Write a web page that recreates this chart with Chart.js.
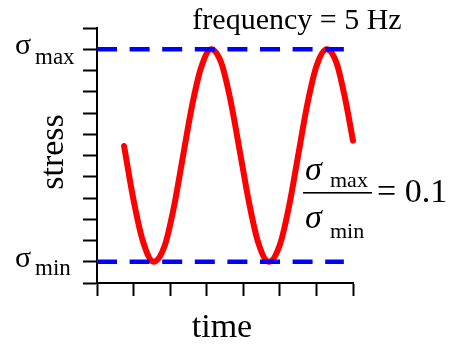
<!DOCTYPE html>
<html>
<head>
<meta charset="utf-8">
<script src="https://cdn.jsdelivr.net/npm/chart.js@4/dist/chart.umd.min.js"></script>
<style>
  body { margin: 0; background: #fff; }
  #stressChart { display: block; }
</style>
</head>
<body>
<canvas id="stressChart" width="451" height="347"></canvas>
<script>
// values (time in axis units, stress in axis units)
var waveTime = [0.74, 1.0, 1.25, 1.55, 1.85, 2.1, 2.35, 2.6, 2.85, 3.12, 3.4, 3.65, 3.9,
                4.15, 4.4, 4.7, 5.0, 5.25, 5.5, 5.75, 6.0, 6.28, 6.55, 6.8, 7.0];
var waveStress = [6.45, 3.9, 2.0, 1.0, 1.75, 3.55, 5.95, 8.35, 10.15, 11.0, 10.35, 8.6, 6.25,
                  3.85, 1.95, 1.0, 1.8, 3.6, 6.0, 8.4, 10.2, 11.0, 10.35, 8.55, 6.7];
var limitTime = [0, 6.75];
var sigmaMax = 11;
var sigmaMin = 1;
var timeTicks = [0, 7];
var stressTicks = [0, 12];

function toPoints(xs, ys) {
    var pts = [];
    for (var i = 0; i < xs.length; i++) pts.push({x: xs[i], y: ys[i]});
    return pts;
}

var serif = '"Liberation Serif", "Times New Roman", serif';

var labelsPlugin = {
    id: 'stressLabels',
    afterDraw: function (chart) {
        var ctx = chart.ctx;
        var yScale = chart.scales.y;
        ctx.save();
        ctx.fillStyle = '#000';
        ctx.textBaseline = 'alphabetic';

        // sigma labels on the stress axis
        var yMax = yScale.getPixelForValue(sigmaMax);
        var yMin = yScale.getPixelForValue(sigmaMin);
        ctx.textAlign = 'left';
        ctx.font = '30px ' + serif;
        ctx.fillText('σ', 15, yMax + 5);
        ctx.fillText('σ', 15, yMin + 5);
        ctx.font = '23px ' + serif;
        ctx.fillText('max', 35, yMax + 14.5);
        ctx.fillText('min', 35, yMin + 13.5);

        // frequency note
        ctx.font = '30px ' + serif;
        ctx.textAlign = 'center';
        ctx.fillText('frequency = 5 Hz', 297, 29);

        // axis titles
        ctx.font = '34px ' + serif;
        ctx.fillText('time', 222, 337);
        ctx.save();
        ctx.translate(63, 152);
        ctx.rotate(-Math.PI / 2);
        ctx.fillText('stress', 0, 0);
        ctx.restore();

        // ratio
        ctx.textAlign = 'left';
        ctx.font = 'italic 34px ' + serif;
        ctx.fillText('σ', 305, 180);
        ctx.fillText('σ', 305, 228);
        ctx.font = '22px ' + serif;
        ctx.fillText('max', 330, 187);
        ctx.fillText('min', 330, 238);
        ctx.fillRect(303, 192, 69, 1.6);
        ctx.font = '34px ' + serif;
        ctx.fillText('= 0.1', 377, 202);
        ctx.restore();
    }
};

new Chart(document.getElementById('stressChart'), {
    type: 'line',
    data: {
        datasets: [{
            data: toPoints(limitTime, [sigmaMax, sigmaMax]),
            borderColor: '#0000ff',
            borderWidth: 4.5,
            borderDash: [20, 12.6],
            pointRadius: 0,
            fill: false
        }, {
            data: toPoints(limitTime, [sigmaMin, sigmaMin]),
            borderColor: '#0000ff',
            borderWidth: 4.5,
            borderDash: [20, 12.6],
            pointRadius: 0,
            fill: false
        }, {
            data: toPoints(waveTime, waveStress),
            borderColor: '#ff0000',
            borderWidth: 6,
            cubicInterpolationMode: 'monotone',
            borderCapStyle: 'round',
            borderJoinStyle: 'round',
            pointRadius: 0,
            fill: false
        }]
    },
    options: {
        responsive: false,
        animation: false,
        clip: false,
        layout: {
            autoPadding: false,
            padding: {left: 83, top: 28, right: 98, bottom: 51}
        },
        plugins: {
            legend: {display: false},
            tooltip: {enabled: false}
        },
        scales: {
            x: {
                type: 'linear',
                min: timeTicks[0],
                max: timeTicks[1],
                ticks: {display: false, stepSize: 1},
                grid: {drawOnChartArea: false, tickLength: 13, tickColor: '#000', tickWidth: 2},
                border: {color: '#000', width: 2}
            },
            y: {
                type: 'linear',
                min: stressTicks[0],
                max: stressTicks[1],
                ticks: {display: false, stepSize: 1},
                grid: {drawOnChartArea: false, tickLength: 14, tickColor: '#000', tickWidth: 2},
                border: {color: '#000', width: 2}
            }
        }
    },
    plugins: [labelsPlugin]
});
</script>
</body>
</html>
